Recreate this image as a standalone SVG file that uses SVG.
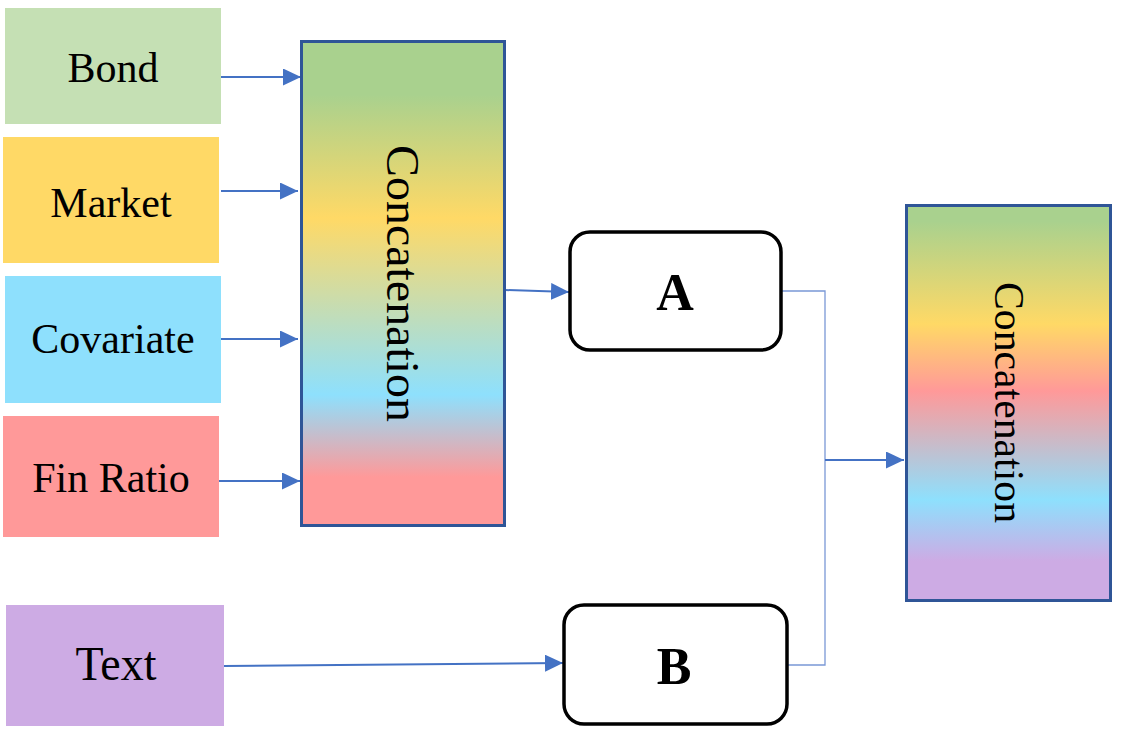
<svg xmlns="http://www.w3.org/2000/svg" width="1122" height="741" viewBox="0 0 1122 741">
<style>
.lbl{font-family:"Liberation Serif","Times New Roman",serif;font-size:42px;fill:#000;text-anchor:middle}
.big{font-family:"Liberation Serif","Times New Roman",serif;font-weight:bold;font-size:52px;fill:#000;text-anchor:middle}
.cat{font-family:"Liberation Serif","Times New Roman",serif;fill:#000;text-anchor:middle}
.cbox{stroke:#2f5597;stroke-width:3}
.proc{fill:#fff;stroke:#000;stroke-width:3.5}
.arr{fill:none;stroke:#4472c4;stroke-width:2;marker-end:url(#ahb)}
.elb{fill:none;stroke:#7a98d6;stroke-width:1.3}
</style>
<defs>
<marker id="ahb" markerWidth="18" markerHeight="17" refX="18" refY="8.5" orient="auto" markerUnits="userSpaceOnUse">
<path d="M0,0 L18,8.5 L0,17 Z" fill="#4472c4"/>
</marker>
<linearGradient id="g1" x1="0" y1="0" x2="0" y2="1">
<stop offset="0.11" stop-color="#a9d18e"/>
<stop offset="0.365" stop-color="#ffd966"/>
<stop offset="0.73" stop-color="#8ee0fd"/>
<stop offset="0.90" stop-color="#ff9999"/>
</linearGradient>
<linearGradient id="g2" x1="0" y1="0" x2="0" y2="1">
<stop offset="0.04" stop-color="#a9d18e"/>
<stop offset="0.30" stop-color="#ffd966"/>
<stop offset="0.47" stop-color="#ff9999"/>
<stop offset="0.745" stop-color="#8ee0fd"/>
<stop offset="0.90" stop-color="#cdabe4"/>
</linearGradient>
</defs>

<g id="connectors">
<path class="elb" d="M782,291 H825 V665 H788"/>
<line class="arr" x1="219" y1="77" x2="301" y2="77"/>
<line class="arr" x1="221" y1="191" x2="298" y2="191"/>
<line class="arr" x1="221" y1="339" x2="298" y2="339"/>
<line class="arr" x1="219" y1="481" x2="300" y2="481"/>
<line class="arr" x1="505" y1="290" x2="569" y2="292"/>
<line class="arr" x1="224" y1="666" x2="563" y2="663"/>
<line class="arr" x1="825" y1="460" x2="904" y2="460"/>
</g>

<g id="bond">
<rect x="5" y="8" width="216" height="116" fill="#c5e0b4"/>
<text class="lbl" x="113" y="82">Bond</text>
</g>
<g id="market">
<rect x="3" y="137" width="216" height="126" fill="#ffd966"/>
<text class="lbl" x="111" y="217">Market</text>
</g>
<g id="covariate">
<rect x="5" y="276" width="216" height="127" fill="#8ee0fd"/>
<text class="lbl" x="113" y="353">Covariate</text>
</g>
<g id="finratio">
<rect x="3" y="416" width="216" height="121" fill="#ff9999"/>
<text class="lbl" x="111" y="492">Fin Ratio</text>
</g>
<g id="text">
<rect x="6" y="605" width="218" height="121" fill="#cdabe4"/>
<text class="lbl" x="116" y="680" style="font-size:48px" textLength="81" lengthAdjust="spacingAndGlyphs">Text</text>
</g>

<g id="concat1">
<rect class="cbox" x="301.5" y="41.5" width="203" height="484" fill="url(#g1)"/>
<text class="cat" transform="translate(387,283.5) rotate(90)" style="font-size:47px" textLength="277" lengthAdjust="spacingAndGlyphs">Concatenation</text>
</g>

<g id="A">
<rect class="proc" x="570" y="232" width="211" height="118" rx="20"/>
<text class="big" x="675" y="310">A</text>
</g>
<g id="B">
<rect class="proc" x="564" y="605" width="223" height="119" rx="20"/>
<text class="big" x="674" y="684">B</text>
</g>

<g id="concat2">
<rect class="cbox" x="906.5" y="205.5" width="204" height="395" fill="url(#g2)"/>
<text class="cat" transform="translate(995,402.5) rotate(90)" style="font-size:43px" textLength="241" lengthAdjust="spacingAndGlyphs">Concatenation</text>
</g>
</svg>
